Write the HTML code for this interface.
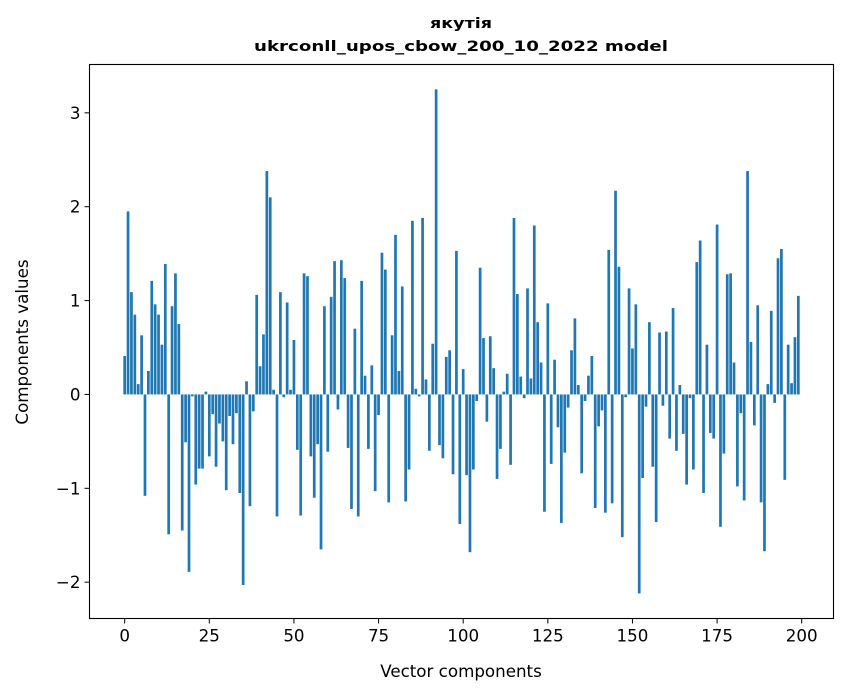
<!DOCTYPE html>
<html><head><meta charset="utf-8"><style>
body{margin:0;background:#fff;}
svg{display:block;font-family:"DejaVu Sans","Liberation Sans",sans-serif;}
</style></head><body>
<svg id="chart" width="847" height="696" viewBox="0 0 847 696">
<text x="461" y="28" text-anchor="middle" font-size="14.5" font-weight="bold" textLength="62" lengthAdjust="spacingAndGlyphs">якутія</text>
<text x="461" y="51" text-anchor="middle" font-size="14.5" font-weight="bold" textLength="414" lengthAdjust="spacingAndGlyphs">ukrconll_upos_cbow_200_10_2022 model</text>
<g id="bars"></g>
<rect x="89.5" y="64.5" width="744" height="554" fill="none" stroke="#000" stroke-width="1.1"/>
<g id="xt"></g>
<g id="yt"></g>
<text x="461" y="677" text-anchor="middle" font-size="16.7">Vector components</text>
<text transform="translate(28,342) rotate(-90)" text-anchor="middle" font-size="16.7">Components values</text>
</svg>
<script>
const values = [0.41,1.95,1.09,0.85,0.11,0.63,-1.08,0.25,1.21,0.96,0.85,0.53,1.39,-1.49,0.94,1.29,0.75,-1.45,-0.51,-1.89,
-0.02,-0.96,-0.79,-0.79,0.03,-0.66,-0.21,-0.77,-0.31,-0.50,-1.02,-0.23,-0.53,-0.20,-1.05,-2.03,0.14,-1.19,-0.18,1.06,
0.30,0.64,2.38,2.10,0.05,-1.30,1.09,-0.03,0.98,0.05,0.58,-0.59,-1.29,1.29,1.26,-0.66,-1.10,-0.53,-1.65,0.94,
-0.61,1.04,1.42,-0.16,1.43,1.24,-0.57,-1.22,0.70,-1.30,1.21,0.20,-0.58,0.31,-1.03,-0.22,1.51,1.33,-1.15,0.63,
1.70,0.25,1.15,-1.14,-0.80,1.85,0.06,-0.02,1.88,0.16,-0.60,0.54,3.25,-0.54,-0.68,0.40,0.47,-0.85,1.53,-1.38,
0.27,-0.86,-1.68,-0.80,-0.07,1.35,0.60,-0.29,0.62,0.28,-0.90,-0.58,0.03,0.22,-0.75,1.88,1.07,0.19,-0.04,1.13,
0.17,1.80,0.77,0.34,-1.25,0.97,-0.74,0.37,-0.35,-1.37,-0.62,-0.14,0.47,0.81,0.10,-0.84,-0.07,0.20,0.41,-1.21,
-0.34,-0.17,-1.26,1.54,-1.16,2.17,1.36,-1.52,-0.03,1.13,0.49,0.96,-2.12,-0.89,-0.13,0.77,-0.77,-1.36,0.66,-0.12,
0.67,-0.47,0.92,-0.60,0.10,-0.42,-0.96,-0.04,-0.80,1.41,1.64,-1.05,0.53,-0.41,-0.47,1.81,-1.41,-0.63,1.28,1.29,
0.34,-0.98,-0.20,-1.13,2.38,0.56,-0.33,0.95,-1.15,-1.67,0.11,0.89,-0.09,1.45,1.55,-0.91,0.53,0.12,0.61,1.05];
const xTicks = [0,25,50,75,100,125,150,175,200];
const yTicks = [-2,-1,0,1,2,3];
const NS="http://www.w3.org/2000/svg";
const L=89.5,R=833.5,T=64.5,B=618.5;
const xmin=-10.39,xmax=209.39,ymin=-2.387,ymax=3.515;
function X(v){return L+(v-xmin)/(xmax-xmin)*(R-L);}
function Y(v){return B-(v-ymin)/(ymax-ymin)*(B-T);}
const bars=document.getElementById('bars');
values.forEach((v,i)=>{
  const r=document.createElementNS(NS,'rect');
  const x0=X(i-0.4),x1=X(i+0.4),y0=Y(Math.max(v,0)),y1=Y(Math.min(v,0));
  r.setAttribute('x',x0);r.setAttribute('width',x1-x0);
  r.setAttribute('y',y0);r.setAttribute('height',Math.max(y1-y0,0.3));
  r.setAttribute('fill','#1f77b4');
  
  
  bars.appendChild(r);
});
const xt=document.getElementById('xt');
xTicks.forEach(t=>{
  const x=X(t);
  const l=document.createElementNS(NS,'line');
  l.setAttribute('x1',x);l.setAttribute('x2',x);l.setAttribute('y1',B);l.setAttribute('y2',B+5);l.setAttribute('stroke','#000');
  
  
  xt.appendChild(l);
  const s=document.createElementNS(NS,'text');
  s.setAttribute('x',x);s.setAttribute('y',B+23);s.setAttribute('text-anchor','middle');s.setAttribute('font-size','16.7');
  s.textContent=t;
  
  
  xt.appendChild(s);
});
const yt=document.getElementById('yt');
yTicks.forEach(t=>{
  const y=Y(t);
  const l=document.createElementNS(NS,'line');
  l.setAttribute('x1',L-5);l.setAttribute('x2',L);l.setAttribute('y1',y);l.setAttribute('y2',y);l.setAttribute('stroke','#000');
  
  
  yt.appendChild(l);
  const s=document.createElementNS(NS,'text');
  s.setAttribute('x',L-9);s.setAttribute('y',y+6);s.setAttribute('text-anchor','end');s.setAttribute('font-size','16.7');
  s.textContent=t<0?'\u2212'+Math.abs(t):String(t);
  
  
  yt.appendChild(s);
});
</script>
</body></html>
